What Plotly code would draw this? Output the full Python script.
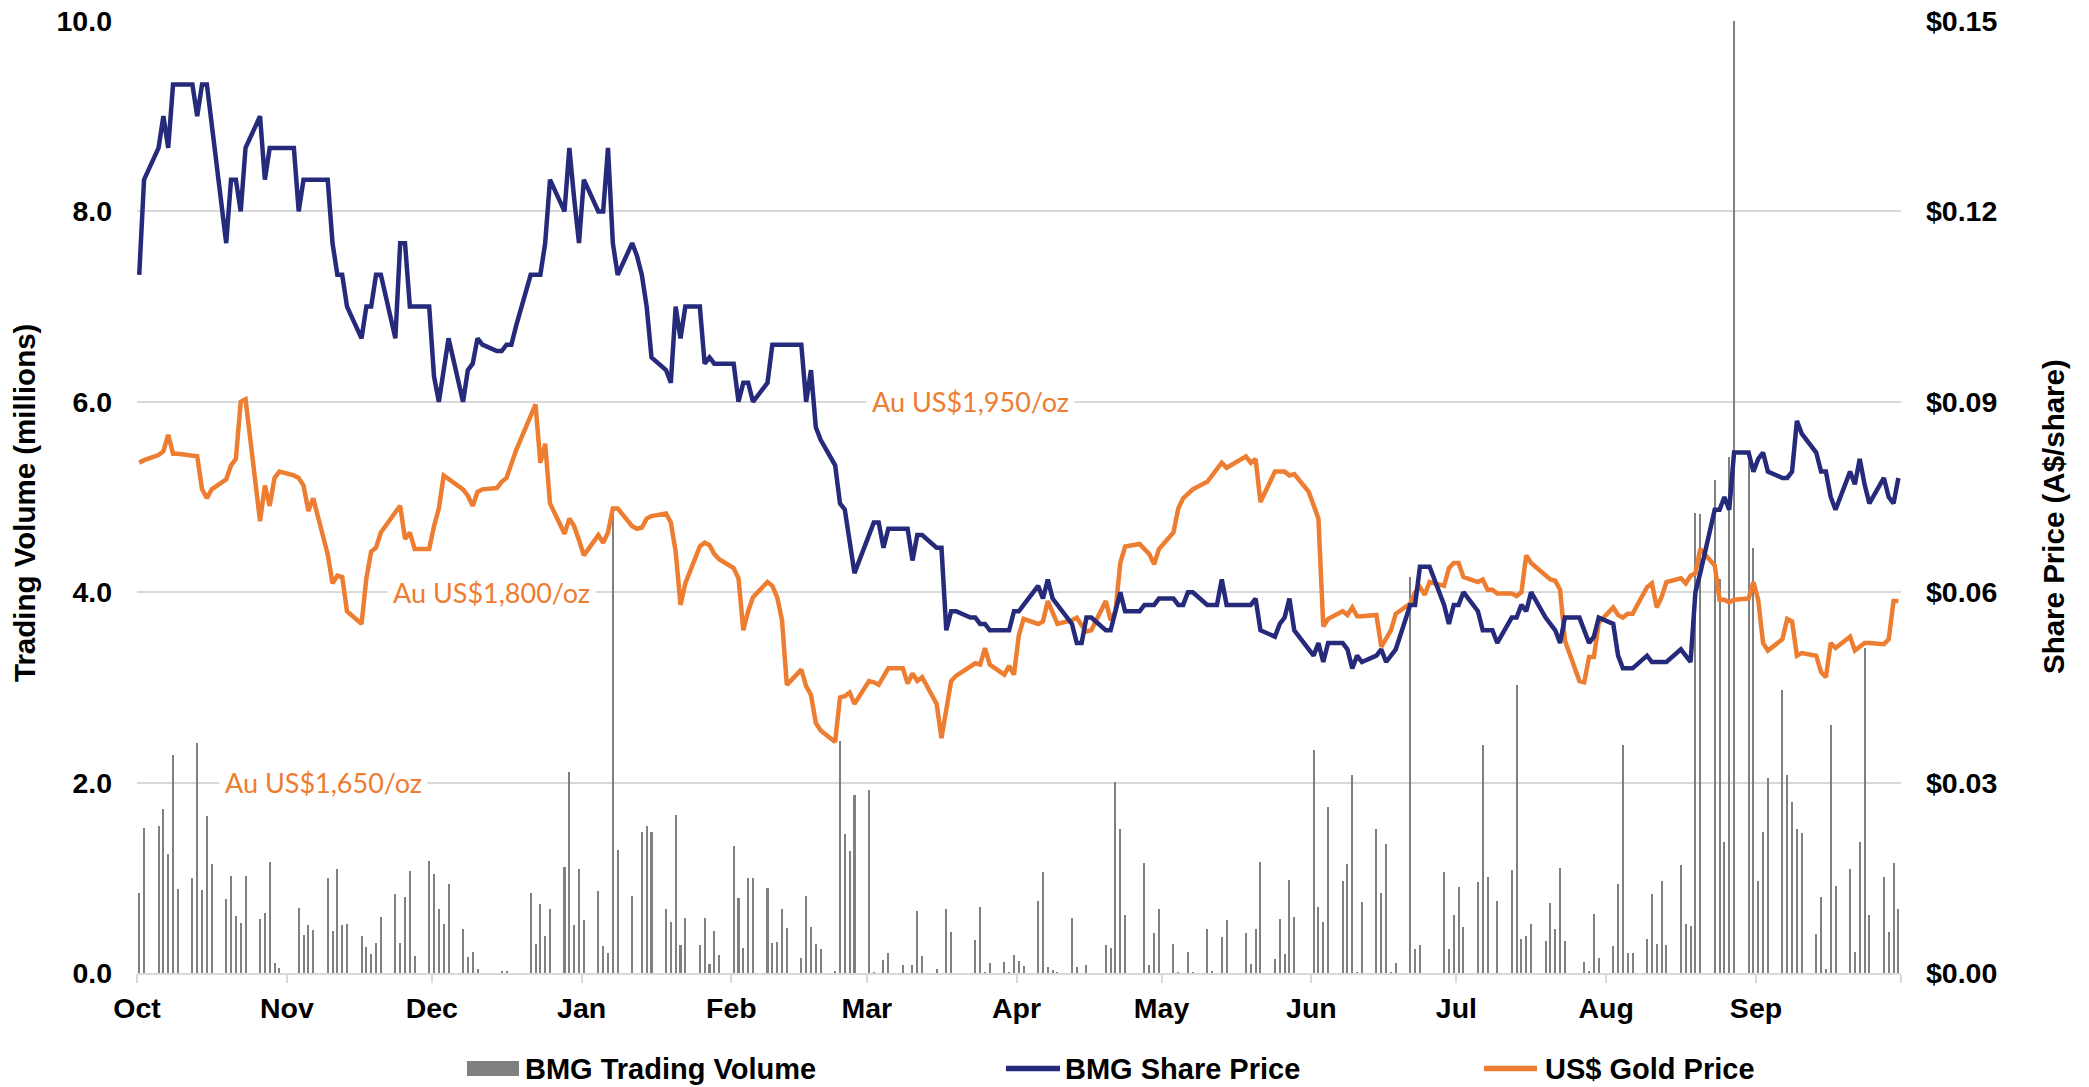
import pandas as pd
import plotly.graph_objects as go

# ---- data -------------------------------------------------------------
# One value per trading day (Mon-Fri), 1 Oct 2020 - 30 Sep 2021, one row per month.
month_labels = ["Oct", "Nov", "Dec", "Jan", "Feb", "Mar", "Apr", "May", "Jun", "Jul", "Aug", "Sep"]

# BMG trading volume (millions of shares)
trading_volume = [
    0.84, 1.52, 1.54, 1.72, 1.25, 2.29, 0.88, 1.00, 2.42, 0.87, 1.65, 1.15, 0.78, 1.02, 0.60, 0.53, 1.02, 0.57, 0.63, 1.17, 0.10, 0.05,  # Oct
    0.00, 0.68, 0.40, 0.50, 0.45, 1.00, 0.44, 1.09, 0.50, 0.51, 0.39, 0.27, 0.20, 0.32, 0.59, 0.83, 0.32, 0.80, 1.07, 0.18, 1.18,  # Nov
    1.04, 0.67, 0.51, 0.94, 0.46, 0.17, 0.22, 0.04, 0.00, 0.00, 0.02, 0.02, 0.00, 0.00, 0.84, 0.30, 0.72, 0.39, 0.67, 1.11, 2.11, 0.50, 1.09,  # Dec
    0.56, 0.86, 0.28, 0.21, 4.90, 1.29, 0.81, 0.00, 1.48, 1.54, 1.48, 0.67, 0.54, 1.66, 0.29, 0.58, 0.29, 0.58, 0.09, 0.44, 0.19,  # Jan
    1.33, 0.79, 0.26, 1.00, 1.00, 0.89, 0.32, 0.33, 0.67, 0.47, 0.16, 0.81, 0.48, 0.30, 0.25, 0.02, 2.44, 1.46, 1.28, 1.87,  # Feb
    1.92, 0.01, 0.00, 0.14, 0.21, 0.08, 0.00, 0.08, 0.65, 0.18, 0.04, 0.00, 0.67, 0.43, 0.00, 0.00, 0.35, 0.69, 0.01, 0.11, 0.12, 0.01, 0.19,  # Mar
    0.13, 0.07, 0.76, 1.06, 0.06, 0.03, 0.01, 0.58, 0.06, 0.00, 0.08, 0.00, 0.29, 0.26, 2.01, 1.51, 0.61, 0.00, 1.16, 0.08, 0.42, 0.67,  # Apr
    0.30, 0.01, 0.00, 0.22, 0.01, 0.46, 0.02, 0.00, 0.38, 0.56, 0.00, 0.42, 0.09, 0.46, 1.17, 0.15, 0.57, 0.20, 0.98, 0.59, 0.00,  # May
    2.34, 0.69, 0.54, 1.74, 0.97, 1.15, 2.08, 0.01, 0.75, 1.51, 0.84, 1.35, 0.01, 0.10, 4.16, 0.25, 0.29, 0.00, 0.00, 1.06, 0.25, 0.61,  # Jun
    0.90, 0.48, 0.96, 2.40, 1.01, 0.00, 0.76, 1.08, 3.03, 0.36, 0.39, 0.52, 0.34, 0.74, 0.46, 1.10, 0.34, 0.00, 0.12, 0.02, 0.62, 0.16,  # Jul
    0.28, 0.93, 2.39, 0.21, 0.21, 0.36, 0.83, 0.30, 0.97, 0.29, 1.13, 0.51, 0.49, 4.83, 4.82, 5.18, 4.14, 1.38, 5.42, 10.0, 5.37, 4.46,  # Aug
    0.97, 1.48, 2.05, 2.97, 2.08, 1.80, 1.51, 1.47, 0.41, 0.80, 0.04, 2.61, 0.91, 1.09, 0.22, 1.38, 3.41, 0.61, 1.01, 0.43, 1.16, 0.67,  # Sep
]

# BMG share price (A$/share)
share_price = [
    0.110, 0.125, 0.130, 0.135, 0.130, 0.140, 0.140, 0.140, 0.135, 0.140, 0.140, 0.134, 0.115, 0.125, 0.125, 0.120, 0.130, 0.135, 0.125, 0.130, 0.130, 0.130,  # Oct
    0.130, 0.120, 0.125, 0.125, 0.125, 0.125, 0.115, 0.110, 0.110, 0.105, 0.100, 0.105, 0.105, 0.110, 0.110, 0.100, 0.115, 0.115, 0.105, 0.105, 0.105,  # Nov
    0.094, 0.090, 0.095, 0.100, 0.090, 0.095, 0.096, 0.100, 0.099, 0.098, 0.098, 0.099, 0.099, 0.102, 0.110, 0.110, 0.110, 0.115, 0.125, 0.120, 0.130, 0.122, 0.115,  # Dec
    0.125, 0.120, 0.120, 0.130, 0.115, 0.110, 0.115, 0.113, 0.110, 0.105, 0.097, 0.095, 0.093, 0.105, 0.100, 0.105, 0.105, 0.096, 0.097, 0.096, 0.096,  # Jan
    0.096, 0.090, 0.093, 0.093, 0.090, 0.093, 0.099, 0.099, 0.099, 0.099, 0.099, 0.090, 0.095, 0.086, 0.084, 0.080, 0.074, 0.073, 0.068, 0.063,  # Feb
    0.069, 0.071, 0.071, 0.067, 0.070, 0.070, 0.070, 0.065, 0.069, 0.069, 0.067, 0.067, 0.054, 0.057, 0.057, 0.056, 0.056, 0.055, 0.055, 0.054, 0.054, 0.054, 0.057,  # Mar
    0.057, 0.058, 0.061, 0.059, 0.062, 0.059, 0.058, 0.055, 0.052, 0.052, 0.056, 0.056, 0.054, 0.054, 0.057, 0.060, 0.057, 0.057, 0.058, 0.058, 0.058, 0.059,  # Apr
    0.059, 0.058, 0.058, 0.060, 0.060, 0.058, 0.058, 0.058, 0.062, 0.058, 0.058, 0.058, 0.058, 0.059, 0.054, 0.053, 0.055, 0.056, 0.059, 0.054, 0.051,  # May
    0.050, 0.052, 0.049, 0.052, 0.052, 0.051, 0.048, 0.050, 0.049, 0.050, 0.051, 0.049, 0.050, 0.051, 0.058, 0.058, 0.064, 0.064, 0.064, 0.058, 0.055, 0.058,  # Jun
    0.058, 0.060, 0.057, 0.054, 0.054, 0.054, 0.052, 0.056, 0.056, 0.058, 0.057, 0.060, 0.056, 0.055, 0.054, 0.052, 0.056, 0.056, 0.054, 0.052, 0.053, 0.056,  # Jul
    0.055, 0.050, 0.048, 0.048, 0.048, 0.050, 0.049, 0.049, 0.049, 0.049, 0.051, 0.050, 0.049, 0.060, 0.063, 0.073, 0.073, 0.075, 0.073, 0.082, 0.082, 0.079,  # Aug
    0.081, 0.082, 0.079, 0.078, 0.078, 0.079, 0.087, 0.085, 0.082, 0.079, 0.079, 0.075, 0.073, 0.079, 0.077, 0.081, 0.077, 0.074, 0.078, 0.075, 0.074, 0.078,  # Sep
]

# Gold price (US$/oz)
gold_price = [
    1902, 1904, 1908, 1911, 1924, 1909, 1909, 1908, 1907, 1881, 1874, 1881, 1889, 1900, 1905, 1950, 1952, 1856, 1884, 1868, 1890, 1895,  # Oct
    1892, 1890, 1884, 1864, 1874, 1830, 1807, 1813, 1812, 1785, 1775, 1811, 1832, 1835, 1847, 1863, 1868, 1842, 1847, 1834, 1834,  # Nov
    1852, 1866, 1892, 1889, 1881, 1876, 1868, 1879, 1881, 1882, 1887, 1890, 1901, 1912, 1939, 1948, 1902, 1917, 1870, 1846, 1858, 1852, 1841,  # Dec
    1829, 1845, 1839, 1847, 1866, 1866, 1852, 1850, 1851, 1858, 1860, 1862, 1855, 1832, 1790, 1807, 1836, 1839, 1837, 1830, 1826,  # Jan
    1819, 1811, 1770, 1785, 1796, 1808, 1805, 1796, 1778, 1727, 1739, 1726, 1719, 1697, 1691, 1682, 1717, 1718, 1721, 1712,  # Feb
    1730, 1729, 1727, 1734, 1740, 1740, 1728, 1736, 1730, 1733, 1712, 1685, 1709, 1730, 1734, 1742, 1744, 1743, 1756, 1743, 1735, 1742, 1735,  # Mar
    1766, 1779, 1775, 1777, 1793, 1784, 1775, 1778, 1780, 1774, 1769, 1770, 1793, 1778, 1785, 1823, 1836, 1838, 1834, 1830, 1822, 1834,  # Apr
    1847, 1866, 1874, 1877, 1881, 1887, 1892, 1896, 1902, 1898, 1905, 1907, 1902, 1905, 1871, 1895, 1895, 1895, 1892, 1893, 1879,  # May
    1868, 1858, 1773, 1779, 1785, 1782, 1788, 1781, 1781, 1782, 1757, 1764, 1770, 1783, 1791, 1800, 1804, 1798, 1808, 1805, 1819, 1823,  # Jun
    1823, 1812, 1808, 1810, 1802, 1802, 1799, 1799, 1797, 1800, 1829, 1823, 1814, 1810, 1809, 1802, 1762, 1730, 1729, 1749, 1749, 1776,  # Jul
    1788, 1782, 1780, 1783, 1783, 1804, 1807, 1788, 1796, 1808, 1811, 1807, 1813, 1815, 1834, 1821, 1794, 1794, 1792, 1794, 1795, 1808,  # Aug
    1794, 1760, 1754, 1763, 1779, 1777, 1750, 1752, 1750, 1737, 1733, 1760, 1756, 1765, 1754, 1757, 1760, 1760, 1759, 1763, 1793, 1793,  # Sep
]

# Gold reference levels written on the chart
gold_levels = [1650, 1800, 1950]
gold_label_dates = ["2020-11-08 15:00", "2020-12-13 10:00", "2021-03-22 10:00"]

# ---- styling ----------------------------------------------------------
NAVY = "#252A7B"
ORANGE = "#ED7D31"
GREY_BAR = "#808080"
GRID = "#D9D9D9"
BOLD_FONT = "Liberation Sans"
TICK_FS = 28.5
TITLE_FS = 29.5
LEGEND_FS = 29

W, H = 2089, 1087
PLOT_L, PLOT_R, PLOT_T, PLOT_B = 137, 1901, 21, 973


def px_x(px):
    """Horizontal page pixel -> paper fraction of the plot area."""
    return (px - PLOT_L) / (PLOT_R - PLOT_L)


def px_y(py):
    """Vertical page pixel -> paper fraction of the plot area."""
    return (PLOT_B - py) / (PLOT_B - PLOT_T)


# each trading day sits in the middle of its one-day slot on the date axis
trade_days = pd.bdate_range("2020-10-01", "2021-09-30") + pd.Timedelta(hours=11)
month_starts = pd.date_range("2020-10-01", "2021-10-01", freq="MS")

fig = go.Figure()

fig.add_trace(go.Bar(
    x=trade_days, y=trading_volume, name="BMG Trading Volume",
    marker=dict(color=GREY_BAR, line=dict(width=0)),
    width=0.42 * 86400000, yaxis="y",
))
fig.add_trace(go.Scatter(
    x=trade_days, y=gold_price, name="US$ Gold Price", mode="lines",
    line=dict(color=ORANGE, width=4.5), yaxis="y2",
))
fig.add_trace(go.Scatter(
    x=trade_days, y=share_price, name="BMG Share Price", mode="lines",
    line=dict(color=NAVY, width=4.5), yaxis="y3",
))

# gold price reference labels sitting on the matching gridlines
for level, when in zip(gold_levels, gold_label_dates):
    fig.add_annotation(
        x=when, y=level, xref="x", yref="y2",
        text=f"Au US${level:,}/oz", showarrow=False,
        font=dict(family="Lato", size=27, color=ORANGE, weight="normal"),
        bgcolor="white", borderpad=5,
    )

# axis titles
fig.add_annotation(
    x=px_x(24), y=px_y(503), xref="paper", yref="paper",
    text="Trading Volume (millions)", textangle=-90, showarrow=False,
    xanchor="center", yanchor="middle",
    font=dict(family=BOLD_FONT, size=TITLE_FS, color="black", weight="bold"),
)
fig.add_annotation(
    x=px_x(2053), y=px_y(517), xref="paper", yref="paper",
    text="Share Price (A$/share)", textangle=-90, showarrow=False,
    xanchor="center", yanchor="middle",
    font=dict(family=BOLD_FONT, size=TITLE_FS, color="black", weight="bold"),
)

# legend along the bottom: swatch + label for each series
legend_mid = 1068.5
fig.add_shape(type="rect", xref="paper", yref="paper",
              x0=px_x(467), x1=px_x(519), y0=px_y(legend_mid + 7.5), y1=px_y(legend_mid - 7.5),
              fillcolor=GREY_BAR, line=dict(width=0))
fig.add_shape(type="line", xref="paper", yref="paper",
              x0=px_x(1006), x1=px_x(1060), y0=px_y(legend_mid), y1=px_y(legend_mid),
              line=dict(color=NAVY, width=5.5))
fig.add_shape(type="line", xref="paper", yref="paper",
              x0=px_x(1484), x1=px_x(1537), y0=px_y(legend_mid), y1=px_y(legend_mid),
              line=dict(color=ORANGE, width=5.5))
for label, left in [("BMG Trading Volume", 523), ("BMG Share Price", 1063), ("US$ Gold Price", 1543)]:
    fig.add_annotation(
        x=px_x(left), y=px_y(legend_mid), xref="paper", yref="paper",
        text=label, showarrow=False, xanchor="left", yanchor="middle",
        font=dict(family=BOLD_FONT, size=LEGEND_FS, color="black", weight="bold"),
    )

fig.update_layout(
    width=W, height=H,
    margin=dict(l=PLOT_L, r=W - PLOT_R, t=PLOT_T, b=H - PLOT_B, autoexpand=False),
    plot_bgcolor="white", paper_bgcolor="white",
    bargap=0, showlegend=False,
    font=dict(family=BOLD_FONT, size=TICK_FS, color="black", weight="bold"),
    xaxis=dict(
        type="date", range=["2020-10-01", "2021-10-01"],
        tickvals=month_starts, ticktext=month_labels + [""],
        ticks="outside", ticklen=8, tickwidth=1.5, tickcolor=GRID,
        showline=True, linecolor=GRID, linewidth=1.5,
        showgrid=False, zeroline=False,
        tickfont=dict(family=BOLD_FONT, size=TICK_FS, weight="bold"),
        ticklabelstandoff=1,
    ),
    yaxis=dict(
        range=[0, 10], dtick=2, tickformat=".1f",
        showgrid=True, gridcolor=GRID, gridwidth=1.5,
        zeroline=False, showline=False, ticks="",
        tickfont=dict(family=BOLD_FONT, size=TICK_FS, weight="bold"),
        ticklabelstandoff=24,
    ),
    yaxis2=dict(
        range=[1500, 2250], overlaying="y", visible=False,
    ),
    yaxis3=dict(
        range=[0, 0.15], dtick=0.03, tickformat=".2f", tickprefix="$",
        overlaying="y", side="right", showgrid=False, zeroline=False,
        showline=False, ticks="",
        tickfont=dict(family=BOLD_FONT, size=TICK_FS, weight="bold"),
        ticklabelstandoff=24,
    ),
)

fig.write_html("out.html")
